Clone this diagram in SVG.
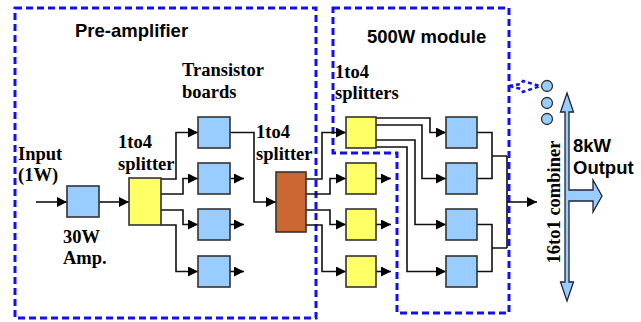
<svg xmlns="http://www.w3.org/2000/svg" width="641" height="322" viewBox="0 0 641 322">
<style>
.grp{fill:none;stroke:#1010f0;stroke-width:3;stroke-dasharray:7 4}
.blue{fill:#99ccff;stroke:#333;stroke-width:1.6}
.yel{fill:#ffff66;stroke:#333;stroke-width:1.6}
.org{fill:#cc6633;stroke:#333;stroke-width:1.6}
.ln{fill:none;stroke:#111;stroke-width:1.6}
.ar{marker-end:url(#ah)}
.sans{font-family:"Liberation Sans",Arial,sans-serif;font-weight:bold;font-size:18.5px;fill:#000}
.serif{font-family:"Liberation Serif","Times New Roman",serif;font-weight:bold;font-size:18.5px;fill:#000}
.big{fill:#99ccff;stroke:#223;stroke-width:1.3}
</style>
<defs>
<marker id="ah" markerUnits="userSpaceOnUse" markerWidth="11" markerHeight="10" refX="10" refY="5" orient="auto">
<path d="M0,0 L10,5 L0,10 z" fill="#000"/>
</marker>
</defs>
<g id="preamp-group"><rect class="grp" x="15" y="8" width="301" height="310"/><text class="sans" x="75" y="37">Pre-amplifier</text></g>
<g id="module-group"><path class="grp" d="M333,8 H509 V313 H397 V153 H333 Z"/><text class="sans" x="367" y="43">500W module</text></g>
<g id="more-modules">
<path class="grp" style="stroke-width:2.5;stroke-dasharray:4 3" d="M509,86 L521,84 L523,81 L540,86 L523,92 L521,89 Z"/>
<circle class="blue" cx="547" cy="86" r="5.5" style="stroke-width:1.3"/>
<circle class="blue" cx="547" cy="103" r="5.5" style="stroke-width:1.3"/>
<circle class="blue" cx="547" cy="119" r="5.5" style="stroke-width:1.3"/>
</g>
<g id="connectors">
<path class="ln ar" d="M36,202 H67"/>
<path class="ln ar" d="M99,202 H129"/>
<path class="ln ar" d="M161,179 H176 V132.5 H198"/>
<path class="ln ar" d="M161,194 H183 V178.5 H198"/>
<path class="ln ar" d="M161,210 H183 V224.5 H198"/>
<path class="ln ar" d="M161,225 H176 V271.5 H198"/>
<path class="ln ar" d="M230,132.5 H254 V202 H276"/>
<path class="ln ar" d="M230,178.5 H244"/>
<path class="ln ar" d="M230,224.5 H244"/>
<path class="ln ar" d="M230,271.5 H244"/>
<path class="ln ar" d="M306,179 H322 V132.5 H346"/>
<path class="ln ar" d="M306,194 H330 V178.5 H346"/>
<path class="ln ar" d="M306,210 H330 V224.5 H346"/>
<path class="ln ar" d="M306,225 H322 V271.5 H346"/>
<path class="ln ar" d="M376,178.5 H391"/>
<path class="ln ar" d="M376,224.5 H391"/>
<path class="ln ar" d="M376,271.5 H391"/>
<path class="ln ar" d="M376,118 H430 V132.5 H446"/>
<path class="ln ar" d="M376,125 H422 V178.5 H446"/>
<path class="ln ar" d="M376,140 H415 V224.5 H446"/>
<path class="ln ar" d="M376,147 H407 V271.5 H446"/>
<path class="ln" d="M477,132.5 H492 V178.5 H477 M492,156 H507 M477,224.5 H492 V271.5 H477 M492,248 H507 M507,156 V248"/>
<path class="ln ar" d="M507,202 H537"/>
</g>
<g id="input-label"><text class="serif" x="18" y="160">Input</text><text class="serif" x="18" y="181">(1W)</text></g>
<g id="amp30"><rect class="blue" x="67" y="186" width="32" height="31"/><text class="serif" x="63" y="243">30W</text><text class="serif" x="63" y="264">Amp.</text></g>
<g id="splitter1"><rect class="yel" x="129" y="178" width="32" height="47"/><text class="serif" x="118" y="148">1to4</text><text class="serif" x="118" y="170">splitter</text></g>
<g id="transistor-boards">
<text class="serif" x="182" y="76">Transistor</text><text class="serif" x="182" y="98">boards</text>
<rect class="blue" x="198" y="117" width="32" height="31"/>
<rect class="blue" x="198" y="163" width="32" height="31"/>
<rect class="blue" x="198" y="209" width="32" height="31"/>
<rect class="blue" x="198" y="256" width="32" height="31"/>
</g>
<g id="splitter2"><rect class="org" x="276" y="172" width="30" height="60"/><text class="serif" x="256" y="138">1to4</text><text class="serif" x="256" y="160">splitter</text></g>
<g id="splitters500">
<text class="serif" x="335" y="78">1to4</text><text class="serif" x="335" y="99">splitters</text>
<rect class="yel" x="346" y="117" width="30" height="31"/>
<rect class="yel" x="346" y="163" width="30" height="31"/>
<rect class="yel" x="346" y="209" width="30" height="31"/>
<rect class="yel" x="346" y="256" width="30" height="31"/>
</g>
<g id="amps500">
<rect class="blue" x="446" y="117" width="31" height="31"/>
<rect class="blue" x="446" y="163" width="31" height="31"/>
<rect class="blue" x="446" y="209" width="31" height="31"/>
<rect class="blue" x="446" y="256" width="31" height="31"/>
</g>
<g id="combiner">
<path class="big" d="M567,93 L573.5,112 L569,112 L569,190 L593,190 L593,180 L602,196 L593,212 L593,201 L569,201 L569,282 L573.5,282 L567,301 L560.5,282 L565,282 L565,112 L560.5,112 Z"/>
<text class="serif" transform="translate(560,202) rotate(-90)" text-anchor="middle">16to1 combiner</text>
<text class="sans" x="573" y="152">8kW</text><text class="sans" x="573" y="174">Output</text>
</g>
</svg>
